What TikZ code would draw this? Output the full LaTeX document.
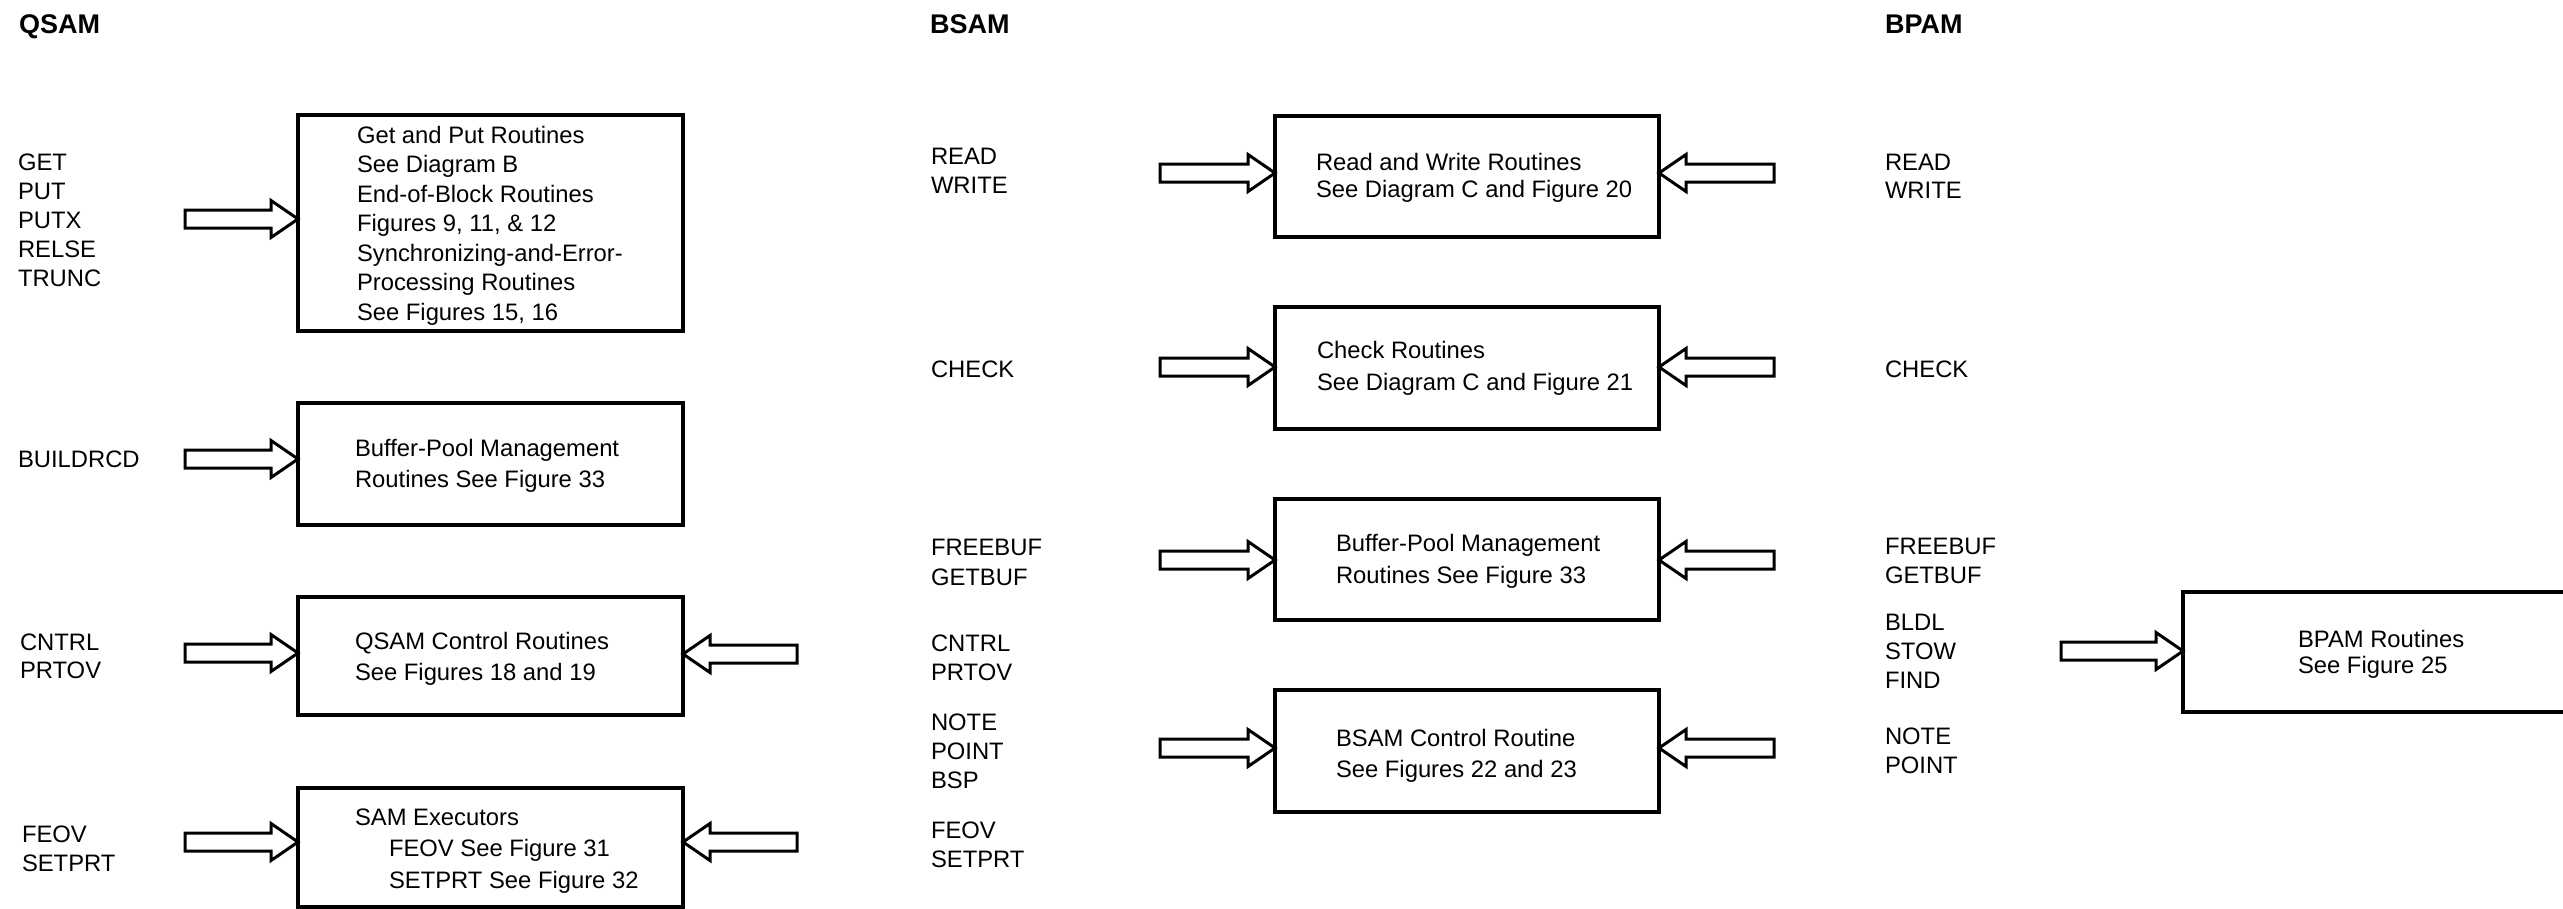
\documentclass[tikz,border=0pt]{standalone}
\usepackage{fontspec}
\setmainfont{Liberation Sans}
\usetikzlibrary{calc}
\newcommand\txtfont{\fontsize{23.8}{29}\selectfont}
\newcommand\ttlfont{\fontsize{27}{32}\selectfont\bfseries}
\newcommand\stk[2]{\vtop{\baselineskip=#1pt\lineskiplimit=-100pt\lineskip=0pt #2}}
\newcommand\myl[1]{\hbox{#1}}
\tikzset{
  box/.style={draw, line width=3.2pt, inner sep=0pt, outer sep=0pt, anchor=north west},
  openbox/.style={inner sep=0pt, outer sep=0pt, anchor=north west},
  txt/.style={anchor=base west, inner sep=0pt, outer sep=0pt, font=\txtfont},
  ttl/.style={anchor=base west, inner sep=0pt, outer sep=0pt, font=\ttlfont},
  barrowstyle/.style={draw, line width=3pt, line join=miter, fill=white},
}
\newcommand\barw[2]{%
  \coordinate (hb) at ($(#2)!27pt!(#1)$);
  \draw[barrowstyle] ($(#1)+(0,9pt)$) -- ($(hb)+(0,9pt)$) -- ($(hb)+(0,18.5pt)$) -- (#2)
    -- ($(hb)+(0,-18.5pt)$) -- ($(hb)+(0,-9pt)$) -- ($(#1)+(0,-9pt)$) -- cycle;}
\begin{document}
\begin{tikzpicture}[x=1pt,y=-1pt]
\fill[white] (0,0) rectangle (2563,908);
\useasboundingbox (0,0) rectangle (2563,908);

% titles
\node[ttl] (tq) at (19,33) {QSAM};
\node[ttl] (tb) at (930,33) {BSAM};
\node[ttl] (tp) at (1885,33) {BPAM};

% ---------------- QSAM ----------------
\node[txt] (ql1) at (18,170) {\stk{29.2}{\myl{GET}\myl{PUT}\myl{PUTX}\myl{RELSE}\myl{TRUNC}}};
\node[txt] (ql2) at (18,467) {BUILDRCD};
\node[txt] (ql3) at (20,650) {\stk{28.5}{\myl{CNTRL}\myl{PRTOV}}};
\node[txt] (ql4) at (22,842) {\stk{29}{\myl{FEOV}\myl{SETPRT}}};

\node[box, minimum width=385pt, minimum height=216pt] (q1) at (298,115) {};
\node[txt] (q1t) at (357,143) {\stk{29.5}{\myl{Get and Put Routines}\myl{See Diagram B}\myl{End-of-Block Routines}\myl{Figures 9, 11, \& 12}\myl{Synchronizing-and-Error-}\myl{Processing Routines}\myl{See Figures 15, 16}}};

\node[box, minimum width=385pt, minimum height=122pt] (q2) at (298,403) {};
\node[txt] (q2t) at (355,456.5) {\stk{31}{\myl{Buffer-Pool Management}\myl{Routines See Figure 33}}};

\node[box, minimum width=385pt, minimum height=118pt] (q3) at (298,597) {};
\node[txt] (q3t) at (355,649) {\stk{31}{\myl{QSAM Control Routines}\myl{See Figures 18 and 19}}};

\node[box, minimum width=385pt, minimum height=119pt] (q4) at (298,788) {};
\node[txt] (q4t) at (355,825) {\stk{31.5}{\myl{SAM Executors}\myl{\kern34pt FEOV See Figure 31}\myl{\kern34pt SETPRT See Figure 32}}};

\coordinate (qa1) at (185,219);
\coordinate (qa2) at (185,459);
\coordinate (qa3) at (185,653);
\coordinate (qa4) at (185,842);
\coordinate (qr3) at (797,654);
\coordinate (qr4) at (797,842);
\barw{qa1}{qa1 -| q1.west}
\barw{qa2}{qa2 -| q2.west}
\barw{qa3}{qa3 -| q3.west}
\barw{qa4}{qa4 -| q4.west}
\barw{qr3}{qr3 -| q3.east}
\barw{qr4}{qr4 -| q4.east}

% ---------------- BSAM ----------------
\node[txt] (bl1) at (931,164) {\stk{29}{\myl{READ}\myl{WRITE}}};
\node[txt] (bl2) at (931,377) {CHECK};
\node[txt] (bl3) at (931,555) {\stk{30}{\myl{FREEBUF}\myl{GETBUF}}};
\node[txt] (bl4) at (931,651) {\stk{29}{\myl{CNTRL}\myl{PRTOV}}};
\node[txt] (bl5) at (931,730) {\stk{29}{\myl{NOTE}\myl{POINT}\myl{BSP}}};
\node[txt] (bl6) at (931,838) {\stk{29}{\myl{FEOV}\myl{SETPRT}}};

\node[box, minimum width=384pt, minimum height=121pt] (b1) at (1275,116) {};
\node[txt] (b1t) at (1316,170) {\stk{27}{\myl{Read and Write Routines}\myl{See Diagram C and Figure 20}}};

\node[box, minimum width=384pt, minimum height=122pt] (b2) at (1275,307) {};
\node[txt] (b2t) at (1317,358) {\stk{32}{\myl{Check Routines}\myl{See Diagram C and Figure 21}}};

\node[box, minimum width=384pt, minimum height=121pt] (b3) at (1275,499) {};
\node[txt] (b3t) at (1336,551) {\stk{32}{\myl{Buffer-Pool Management}\myl{Routines See Figure 33}}};

\node[box, minimum width=384pt, minimum height=122pt] (b4) at (1275,690) {};
\node[txt] (b4t) at (1336,746) {\stk{31}{\myl{BSAM Control Routine}\myl{See Figures 22 and 23}}};

\coordinate (ba1) at (1160,173);
\coordinate (ba2) at (1160,367);
\coordinate (ba3) at (1160,560);
\coordinate (ba4) at (1160,748);
\coordinate (br1) at (1774,173);
\coordinate (br2) at (1774,367);
\coordinate (br3) at (1774,560);
\coordinate (br4) at (1774,748);
\barw{ba1}{ba1 -| b1.west}
\barw{ba2}{ba2 -| b2.west}
\barw{ba3}{ba3 -| b3.west}
\barw{ba4}{ba4 -| b4.west}
\barw{br1}{br1 -| b1.east}
\barw{br2}{br2 -| b2.east}
\barw{br3}{br3 -| b3.east}
\barw{br4}{br4 -| b4.east}

% ---------------- BPAM ----------------
\node[txt] (pl1) at (1885,170) {\stk{28}{\myl{READ}\myl{WRITE}}};
\node[txt] (pl2) at (1885,377) {CHECK};
\node[txt] (pl3) at (1885,554) {\stk{29}{\myl{FREEBUF}\myl{GETBUF}}};
\node[txt] (pl4) at (1885,630) {\stk{29}{\myl{BLDL}\myl{STOW}\myl{FIND}}};
\node[txt] (pl5) at (1885,744) {\stk{29}{\myl{NOTE}\myl{POINT}}};

\node[openbox, minimum width=387pt, minimum height=120pt] (p1) at (2183,592) {};
\draw[line width=3.2pt] (p1.north east) -- (p1.north west) -- (p1.south west) -- (p1.south east);
\node[txt] (p1t) at (2298,647) {\stk{26}{\myl{BPAM Routines}\myl{See Figure 25}}};

\coordinate (pa) at (2061,651);
\barw{pa}{pa -| p1.west}
\end{tikzpicture}
\end{document}
